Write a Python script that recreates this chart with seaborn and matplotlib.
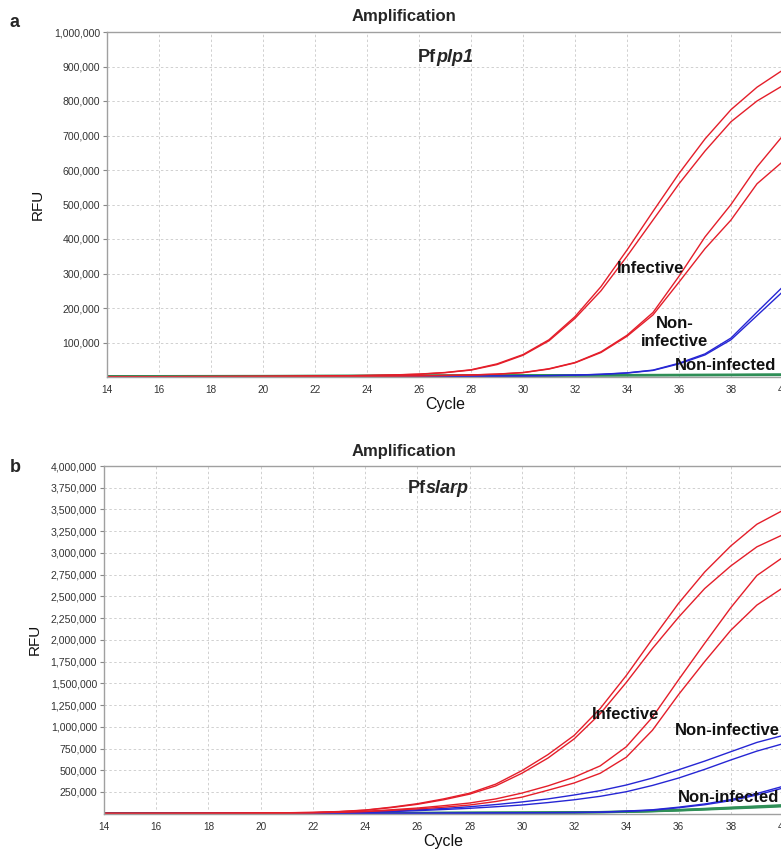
import numpy as np
import pandas as pd
import matplotlib
matplotlib.use("Agg")
import matplotlib.pyplot as plt
import seaborn as sns
from matplotlib.ticker import FuncFormatter, FixedLocator

sns.set_style("whitegrid")
plt.rcParams['font.family'] = ['Liberation Sans', 'DejaVu Sans']

cycles = list(range(14, 41))

# ---------------- Panel a: Pfplp1 ----------------
a_infective_1 = [1000, 1000, 1000, 1200, 1300, 1500, 1800, 2200, 2800, 3500, 4500, 6000, 8500, 13000,
                 21000, 38000, 65000, 108000, 175000, 262000, 368000, 480000, 590000, 690000, 775000, 840000, 890000]
a_infective_2 = [1000, 1000, 1000, 1200, 1300, 1500, 1800, 2200, 2700, 3300, 4300, 5800, 8000, 12500,
                 20000, 36000, 63000, 105000, 170000, 250000, 350000, 455000, 560000, 655000, 740000, 800000, 845000]
a_noninfective_1 = [800, 800, 800, 900, 1000, 1100, 1200, 1400, 1600, 1900, 2300, 2800, 3500, 4500,
                    6000, 8500, 13000, 24000, 42000, 73000, 121000, 187000, 292000, 406000, 500000, 609000, 700000]
a_noninfective_2 = [800, 800, 800, 900, 1000, 1100, 1200, 1400, 1600, 1900, 2300, 2800, 3400, 4300,
                    5800, 8200, 12500, 23000, 41000, 71000, 118000, 180000, 275000, 372000, 455000, 560000, 625000]
a_noninfected_1 = [500, 500, 500, 500, 600, 600, 700, 700, 800, 900, 1000, 1200, 1400, 1700,
                   2000, 2500, 3000, 4000, 5500, 8000, 12000, 20000, 40000, 67000, 113000, 188000, 262000]
a_noninfected_2 = [500, 500, 500, 500, 600, 600, 700, 700, 800, 900, 1000, 1200, 1400, 1700,
                   2000, 2500, 3000, 4000, 5300, 7600, 11500, 19000, 38000, 64000, 108000, 178000, 248000]
a_neg_1 = [2000, 2000, 2100, 2200, 2300, 2400, 2500, 2600, 2800, 3000, 3200, 3400, 3600, 3800,
           4000, 4200, 4400, 4600, 4800, 5000, 5200, 5400, 5600, 5800, 6000, 6300, 6600]
a_neg_2 = [1500, 1500, 1600, 1700, 1800, 1900, 2000, 2100, 2200, 2400, 2600, 2800, 3000, 3200,
           3400, 3600, 3800, 4000, 4200, 4400, 4600, 4800, 5000, 5200, 5400, 5600, 5800]
a_neg_3 = [2500, 2500, 2600, 2700, 2800, 2900, 3000, 3200, 3400, 3600, 3800, 4000, 4200, 4400,
           4600, 4800, 5000, 5200, 5400, 5600, 5800, 6000, 6200, 6400, 6600, 6900, 7200]

# ---------------- Panel b: Pfslarp ----------------
b_infective_1 = [3000, 3000, 3500, 4000, 5000, 6000, 8000, 11000, 15000, 25000, 42000, 75000, 115000, 170000,
                 236000, 340000, 495000, 680000, 900000, 1210000, 1590000, 2010000, 2420000, 2780000, 3080000, 3330000, 3490000]
b_infective_2 = [3000, 3000, 3400, 3900, 4800, 5800, 7500, 10500, 14000, 23000, 40000, 70000, 108000, 160000,
                 225000, 320000, 465000, 640000, 860000, 1150000, 1510000, 1900000, 2260000, 2590000, 2850000, 3070000, 3210000]
b_noninfective_1 = [2500, 2500, 2800, 3200, 3800, 4600, 6000, 8500, 12000, 18000, 28000, 45000, 65000, 92000,
                    123000, 170000, 237000, 320000, 420000, 550000, 770000, 1110000, 1540000, 1960000, 2370000, 2740000, 2950000]
b_noninfective_2 = [2500, 2500, 2700, 3000, 3500, 4200, 5500, 7500, 10500, 16000, 24000, 38000, 55000, 75000,
                    100000, 140000, 190000, 270000, 353000, 465000, 650000, 960000, 1370000, 1750000, 2110000, 2400000, 2600000]
b_blue_1 = [2000, 2000, 2200, 2500, 3000, 4000, 5500, 8000, 11000, 15000, 20000, 30000, 45000, 60000,
            80000, 105000, 135000, 170000, 215000, 265000, 330000, 410000, 505000, 605000, 713000, 820000, 900000]
b_blue_2 = [1800, 1800, 2000, 2300, 2800, 3600, 5000, 7000, 9500, 12000, 15000, 24000, 35000, 48000,
            62000, 80000, 100000, 128000, 160000, 200000, 253000, 325000, 410000, 510000, 618000, 720000, 805000]
b_noninfected_1 = [1500, 1500, 1600, 1700, 1800, 2000, 2200, 2500, 2800, 3200, 3800, 4500, 5500, 6500,
                   7500, 9000, 10500, 12000, 14000, 18000, 30000, 45000, 75000, 112000, 162000, 232000, 315000]
b_noninfected_2 = [1400, 1400, 1500, 1600, 1700, 1900, 2100, 2400, 2700, 3000, 3500, 4200, 5000, 6000,
                   7000, 8500, 10000, 11500, 13000, 16000, 26000, 40000, 68000, 103000, 150000, 215000, 295000]
b_neg_1 = [3000, 3000, 3200, 3400, 3600, 3800, 4000, 4500, 5000, 5500, 6000, 7000, 8000, 9000,
           10000, 11000, 12000, 13500, 15000, 18000, 22000, 30000, 40000, 52000, 65000, 78000, 92000]
b_neg_2 = [2500, 2500, 2700, 2900, 3100, 3300, 3500, 4000, 4500, 5000, 5500, 6500, 7500, 8500,
           9500, 10500, 11500, 13000, 14500, 17000, 21000, 28000, 37000, 48000, 60000, 72000, 85000]
b_neg_3 = [3500, 3500, 3700, 3900, 4100, 4300, 4500, 5000, 5500, 6000, 6500, 7500, 8500, 9500,
           10500, 11500, 12500, 14000, 16000, 19000, 24000, 32000, 43000, 56000, 70000, 84000, 98000]

a_ticks = list(range(100000, 1000001, 100000))
b_ticks = list(range(250000, 4000001, 250000))
x_ticks = list(range(14, 41, 2))

RED = "#e41e2a"
BLUE = "#2626d4"
GREEN = "#2f8f57"


def build(series):
    rows = []
    for name, group, vals in series:
        for c, v in zip(cycles, vals):
            rows.append({"Cycle": c, "RFU": v, "well": name, "group": group})
    return pd.DataFrame(rows)


df_a = build([
    ("n1", "neg", a_neg_1), ("n2", "neg", a_neg_2), ("n3", "neg", a_neg_3),
    ("b1", "blue", a_noninfected_1), ("b2", "blue", a_noninfected_2),
    ("r1", "red", a_infective_1), ("r2", "red", a_infective_2),
    ("r3", "red", a_noninfective_1), ("r4", "red", a_noninfective_2),
])
df_b = build([
    ("n1", "neg", b_neg_1), ("n2", "neg", b_neg_2), ("n3", "neg", b_neg_3),
    ("b1", "blue", b_noninfected_1), ("b2", "blue", b_noninfected_2),
    ("b3", "blue", b_blue_1), ("b4", "blue", b_blue_2),
    ("r1", "red", b_infective_1), ("r2", "red", b_infective_2),
    ("r3", "red", b_noninfective_1), ("r4", "red", b_noninfective_2),
])

W, H = 781, 852
fig = plt.figure(figsize=(W / 100, H / 100), dpi=100)


def fx(x):
    return x / W


def fy(y):
    return 1 - y / H


ax_a = fig.add_axes([fx(107), fy(377), 676 / W, 345 / H])
ax_b = fig.add_axes([fx(104), fy(813.7), 679 / W, 347.7 / H])

palette = {"neg": GREEN, "blue": BLUE, "red": RED}
lw = {"neg": 1.6, "blue": 1.0, "red": 1.0}

for ax, df, ymax, yt in [(ax_a, df_a, 1000000, a_ticks), (ax_b, df_b, 4000000, b_ticks)]:
    for grp in ["neg", "blue", "red"]:
        sub = df[df["group"] == grp]
        sns.lineplot(data=sub, x="Cycle", y="RFU", units="well", estimator=None,
                     color=palette[grp], lw=lw[grp], ax=ax, legend=False, sort=False)
    ax.set_xlim(14, 40)
    ax.set_ylim(0, ymax)
    ax.xaxis.set_major_locator(FixedLocator(x_ticks))
    ax.yaxis.set_major_locator(FixedLocator(yt))
    ax.yaxis.set_major_formatter(FuncFormatter(lambda v, p: f"{int(v):,}"))
    ax.grid(True, color="#d0d0d0", linestyle=(0, (2.5, 2.5)), linewidth=0.7)
    ax.set_axisbelow(True)
    for s in ["left", "bottom", "top"]:
        ax.spines[s].set_visible(True)
        ax.spines[s].set_color("#a0a0a0")
        ax.spines[s].set_linewidth(1.0)
    ax.spines["right"].set_visible(False)
    ax.tick_params(axis="y", which="both", left=True, length=3, width=0.8, color="#888888",
                   labelsize=7.6, labelcolor="#333333", pad=2)
    ax.tick_params(axis="x", which="both", bottom=False, length=0,
                   labelsize=7.2, labelcolor="#333333", pad=6)
    ax.set_xlabel("Cycle", fontsize=11.5, color="#111111")
    ax.set_ylabel("RFU", fontsize=11, color="#111111")

ax_a.xaxis.set_label_coords(0.5, -0.058)
ax_a.yaxis.set_label_coords(-0.0917, 0.5)
ax_b.xaxis.set_label_coords(0.5, -0.058)
ax_b.yaxis.set_label_coords(-0.0914, 0.5)

# titles and panel letters
fig.text(fx(404), fy(16.5), "Amplification", ha="center", va="center", fontsize=12, fontweight="bold")
fig.text(fx(404), fy(451), "Amplification", ha="center", va="center", fontsize=12, fontweight="bold")
fig.text(fx(14.5), fy(22.5), "a", ha="center", va="center", fontsize=13, fontweight="bold")
fig.text(fx(15), fy(467.5), "b", ha="center", va="center", fontsize=13, fontweight="bold")

# gene names: upright "Pf" + italic gene
fig.canvas.draw()
renderer = fig.canvas.get_renderer()
for x0, yc, gene in [(418, 57.5, "plp1"), (408, 488.5, "slarp")]:
    t = fig.text(fx(x0), fy(yc), "Pf", ha="left", va="center", fontsize=13, fontweight="bold")
    bb = t.get_window_extent(renderer=renderer)
    fig.text(bb.x1 / fig.dpi / fig.get_figwidth(), fy(yc), gene, ha="left", va="center",
             fontsize=13, fontweight="bold", fontstyle="italic")

# annotations
ann = dict(ha="center", va="center", fontsize=12, fontweight="bold", color="#111111")
fig.text(fx(651), fy(268.5), "Infective", **ann)
fig.text(fx(675), fy(332.5), "Non-\ninfective", linespacing=1.25, **ann)
fig.text(fx(726), fy(365), "Non-infected", **ann)
fig.text(fx(625.5), fy(714.5), "Infective", **ann)
fig.text(fx(727.5), fy(730.5), "Non-infective", **ann)
fig.text(fx(728.5), fy(797), "Non-infected", **ann)

fig.savefig("out.png", dpi=100)
